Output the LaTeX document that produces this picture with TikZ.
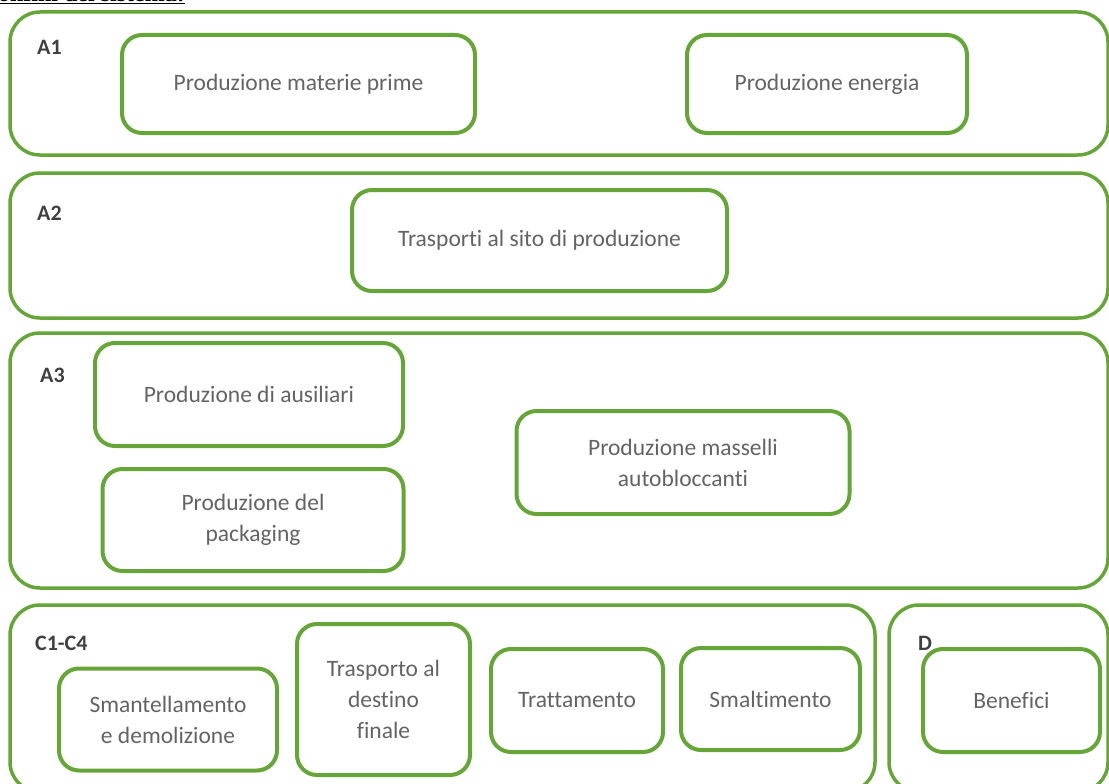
\documentclass[tikz,border=0pt]{standalone}
\usepackage{fontspec}
\setmainfont{Carlito}[Ligatures={NoCommon}]
\newfontfamily\headfont{Liberation Serif}
\definecolor{boxgreen}{RGB}{102,166,56}
\definecolor{txtgray}{RGB}{100,100,100}
\definecolor{lblgray}{RGB}{64,64,64}
\tikzset{
  outerbox/.style={draw=boxgreen, line width=3.5pt, rounded corners=30pt, inner sep=0pt},
  innerbox/.style={draw=boxgreen, line width=4pt, rounded corners=20pt, align=center,
    text=txtgray, font=\fontsize{23.5}{31}\selectfont, inner sep=0pt},
  grouplabel/.style={anchor=base west, text=lblgray, font=\fontsize{22}{26}\selectfont\bfseries, inner sep=0pt},
}
\begin{document}
\begin{tikzpicture}[x=1pt,y=-1pt]
\clip (0,0) rectangle (1109,784);
\fill[white] (0,0) rectangle (1109,784);
% header (cut off at the top)
\node[anchor=base east, inner sep=0pt, font=\headfont\fontsize{24}{28}\selectfont\bfseries] (header) at (185,1.5) {Confini del sistema:};
\draw[line width=1.3pt] (0,3.6) -- (185,3.6);
% outer boxes
\node[outerbox, minimum width=1098, minimum height=143] (A1) at (559,83.5) {};
\node[outerbox, minimum width=1098, minimum height=145] (A2) at (559,245.5) {};
\node[outerbox, minimum width=1098, minimum height=255] (A3) at (559,460.5) {};
\node[outerbox, minimum width=865, minimum height=187] (C) at (442.5,698.5) {};
\node[outerbox, minimum width=219, minimum height=187] (D) at (998.5,698.5) {};
% group labels
\node[grouplabel] (lA1) at (37,55) {A1};
\node[grouplabel] (lA2) at (37,220) {A2};
\node[grouplabel] (lA3) at (40,382) {A3};
\node[grouplabel] (lC) at (35,650) {C1-C4};
\node[grouplabel] (lD) at (918,650) {D};
% inner boxes
\node[innerbox, minimum width=353, minimum height=98] (pmp) at (298.5,84) {Produzione materie prime};
\node[innerbox, minimum width=280, minimum height=98] (pe) at (827,84) {Produzione energia};
\node[innerbox, minimum width=375, minimum height=101] (tsp) at (539.5,240.5) {Trasporti al sito di produzione};
\node[innerbox, minimum width=308, minimum height=103] (pda) at (249,394.5) {Produzione di ausiliari};
\node[innerbox, minimum width=301, minimum height=102] (pdp) at (253,520) {Produzione del\\packaging};
\node[innerbox, minimum width=333, minimum height=103] (pma) at (683,462.5) {Produzione masselli\\autobloccanti};
\node[innerbox, minimum width=218, minimum height=102] (sed) at (168,719.5) {Smantellamento\\e demolizione};
\node[innerbox, minimum width=173, minimum height=151] (tdf) at (383.5,699.5) {Trasporto al\\destino\\finale};
\node[innerbox, minimum width=172, minimum height=103] (tra) at (577,700.5) {Trattamento};
\node[innerbox, minimum width=179, minimum height=102] (sma) at (770.5,699) {Smaltimento};
\node[innerbox, minimum width=177, minimum height=103] (ben) at (1011.5,700.5) {Benefici};
\end{tikzpicture}
\end{document}
